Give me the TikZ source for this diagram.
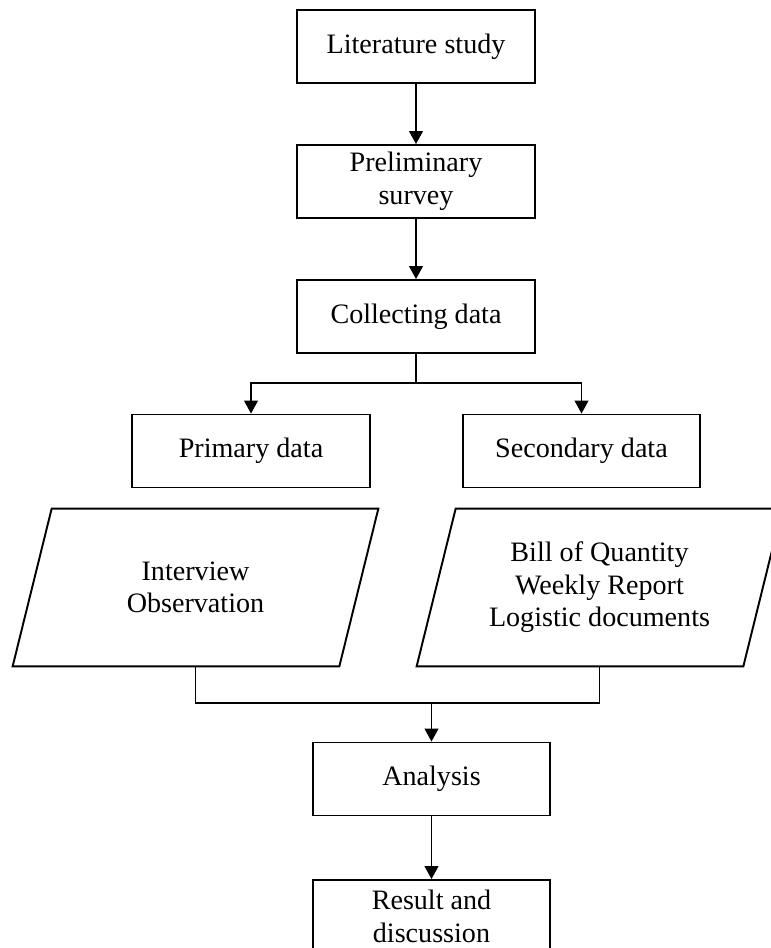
\documentclass[tikz,border=0pt]{standalone}
\usepackage{fontspec}
\setmainfont{Liberation Serif}
\usetikzlibrary{arrows.meta, positioning, calc}

\begin{document}
\begin{tikzpicture}[
                block/.style={draw, line width=1.1pt, fill=white, minimum width=4.75cm, minimum height=1.46cm, align=center, font=\fontsize{16}{18.5}\selectfont},
                source/.style={minimum width=6.52cm, minimum height=3.14cm, inner sep=0pt, align=center, font=\fontsize{16}{18.5}\selectfont},
                frame/.style={line width=1.1pt},
                link/.style={line width=0.6pt},
                arrow/.style={link, -{Triangle[length=0.26cm, width=0.28cm]}}
            ]
                \useasboundingbox (0,0) rectangle (15.42,18.96);

                % Literature study
                \node[block] (lit) at (8.32, 18.03) {Literature study};

                % Preliminary survey
                \node[block] (survey) at (8.32, 15.33) {Preliminary\\survey};

                % Collecting data
                \node[block] (collect) at (8.32, 12.63) {Collecting data};

                % Primary and secondary data
                \node[block] (primary) at (5.02, 9.94) {Primary data};
                \node[block] (secondary) at (11.63, 9.94) {Secondary data};

                % Sources (parallelograms)
                \node[source] (interview) at (3.91, 7.21) {Interview\\Observation};
                \node[source] (documents) at (11.99, 7.21) {Bill of Quantity\\Weekly Report\\Logistic documents};
                \foreach \src in {interview, documents}
                    \draw[frame] ($(\src.south west)+(-0.39,0)$) -- ($(\src.north west)+(0.39,0)$)
                        -- ($(\src.north east)+(0.39,0)$) -- ($(\src.south east)+(-0.39,0)$) -- cycle;

                % Analysis
                \node[block] (analysis) at (8.63, 3.38) {Analysis};

                % Result
                \node[block] (result) at (8.63, 0.63) {Result and\\discussion};

                \coordinate (split) at (8.32, 11.30);
                \coordinate (join) at (8.63, 4.90);

                \draw[arrow] (lit) -- (survey);
                \draw[arrow] (survey) -- (collect);
                \draw[link] (collect) -- (split);
                \draw[arrow] (split) -| (primary);
                \draw[arrow] (split) -| (secondary);
                \draw[link] (interview.south) |- (join) -| (documents.south);
                \draw[arrow] (join) -- (analysis);
                \draw[arrow] (analysis) -- (result);
            \end{tikzpicture}
\end{document}
